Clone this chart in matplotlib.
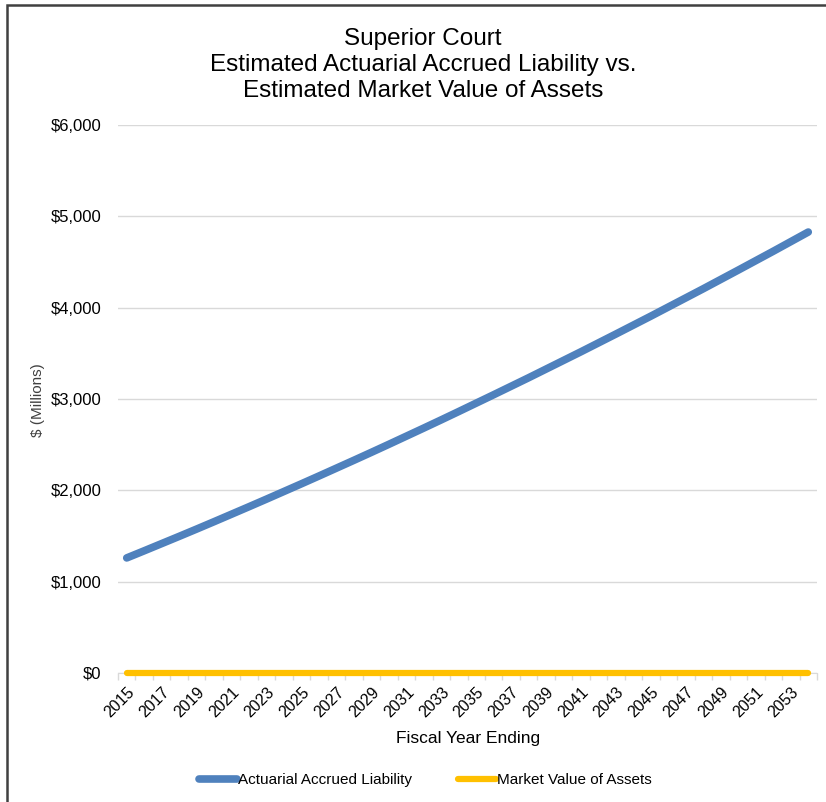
import numpy as np
import matplotlib
matplotlib.use("Agg")
import matplotlib.pyplot as plt
from matplotlib.patches import Rectangle

plt.rcParams['font.family'] = ['Liberation Sans', 'DejaVu Sans']

# Data
years = list(range(2015, 2055))
liability = [
    1260, 1338, 1417, 1496, 1576, 1657, 1739, 1821, 1904, 1988,
    2072, 2157, 2243, 2329, 2416, 2504, 2593, 2682, 2772, 2863,
    2955, 3047, 3140, 3233, 3328, 3423, 3518, 3615, 3712, 3810,
    3908, 4008, 4108, 4208, 4310, 4412, 4515, 4618, 4723, 4828,
]
assets = [0] * 40
y_ticks = [0, 1000, 2000, 3000, 4000, 5000, 6000]

W, H = 826, 802
fig = plt.figure(figsize=(W / 100, H / 100), dpi=100)
ax = fig.add_axes([118 / W, 1 - 673 / H, (817 - 118) / W, (673 - 125) / H])

x = np.arange(len(years))
ax.plot(x, liability, color='#4F81BD', lw=5.5, solid_capstyle='round',
        label='Actuarial Accrued Liability', zorder=3)
ax.plot(x, assets, color='#FFC000', lw=4.5, solid_capstyle='round',
        label='Market Value of Assets', zorder=4, clip_on=False)

ax.set_xlim(-0.5, len(years) - 0.5)
ax.set_ylim(0, 6000)
ax.set_yticks(y_ticks)
ax.set_yticklabels([f'${v:,.0f}' for v in y_ticks], fontsize=12)
ax.tick_params(axis='y', length=0, pad=12)
ax.grid(axis='y', color='#D9D9D9', lw=1)
ax.set_axisbelow(True)

ax.set_xticks(x[::2])
ax.set_xticklabels([str(y) for y in years[::2]], rotation=45, ha='right',
                   rotation_mode='anchor', fontsize=11.5)
ax.set_xticks(np.arange(-0.5, len(years) + 0.5, 1), minor=True)
ax.tick_params(axis='x', which='major', length=0, pad=8)
ax.tick_params(axis='x', which='minor', length=5, color='#D9D9D9', width=1)

for s in ['top', 'right', 'left']:
    ax.spines[s].set_visible(False)
ax.spines['bottom'].set_color('#D9D9D9')

ax.set_xlabel('Fiscal Year Ending', fontsize=12.5)
ax.xaxis.set_label_coords((468 - 118) / (817 - 118), -0.105)
fig.text(38 / W, 1 - 400 / H, '$ (Millions)', rotation=90, ha='center', va='center',
         fontsize=11, color='#404040')

fig.text(423 / W, 1 - 65 / H, 'Superior Court\nEstimated Actuarial Accrued Liability vs.\nEstimated Market Value of Assets',
         ha='center', va='center', fontsize=17.5, linespacing=1.22)

fig.legend(loc='center', bbox_to_anchor=(425 / W, 1 - 780 / H), ncol=2, frameon=False,
           fontsize=11, handlelength=2.5, handletextpad=0.05, columnspacing=3)

fig.patches.append(Rectangle((7 / W, -0.1), 1.2, 1.1 - 5 / H, transform=fig.transFigure,
                             fill=False, edgecolor='#404040', lw=1.8))

fig.savefig('out.png', dpi=100)
